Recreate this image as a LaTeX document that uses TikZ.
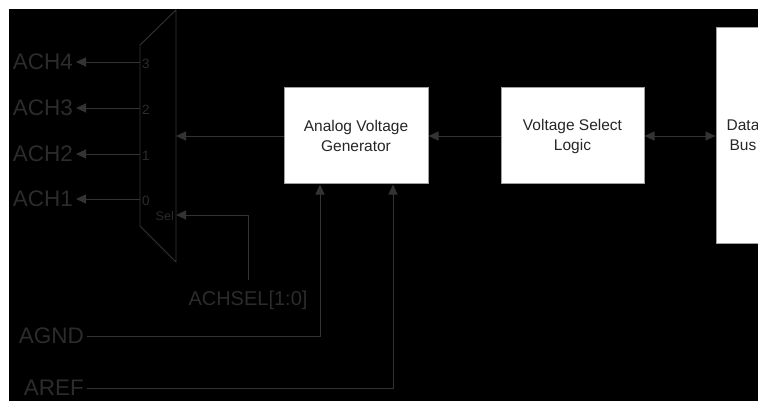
\documentclass[tikz,border=0pt]{standalone}
\usepackage{fontspec}
\setmainfont{Liberation Sans}
\usetikzlibrary{positioning,arrows.meta}
\definecolor{wire}{HTML}{333333}
\definecolor{lbl}{HTML}{2C2C2C}
\definecolor{edge}{HTML}{A0A0A0}

\begin{document}
\begin{tikzpicture}[
  x=1pt, y=-1pt,
  block/.style={
    draw=edge, fill=white, line width=1pt,
    align=center, text=black!85, inner sep=0pt,
    font=\fontsize{15.5}{20}\selectfont
  },
  pin/.style={text=lbl, inner sep=3pt, font=\fontsize{22.5}{27}\selectfont},
  tiny/.style={text=lbl, inner sep=1pt, font=\fontsize{13.5}{16}\selectfont},
  sig/.style={draw=wire, line width=0.9pt, -{Triangle[length=10pt,width=9pt]}},
  bidir/.style={draw=wire, line width=0.9pt,
    {Triangle[length=10pt,width=9pt]}-{Triangle[length=10pt,width=9pt]}}
]

\clip (0,0) rectangle (758,401);
\fill[white] (0,0) rectangle (758,401);
\fill[black] (9,9) rectangle (758,401);

% blocks
\node (avg) [block, minimum width=144pt, minimum height=96pt] at (356,136) {Analog Voltage\\Generator};
\node (vsl) [block, minimum width=143pt, minimum height=96pt] at (572.5,136) {Voltage Select\\Logic};
\node (bus) [block, minimum width=54pt, minimum height=215pt] at (743,135.5) {Data\\Bus};

% analog mux
\draw[wire, line width=0.9pt] (140,45) -- (176,10) -- (176,262) -- (140,226) -- cycle;
\coordinate (in3) at (140,62);
\coordinate (in2) at (140,108);
\coordinate (in1) at (140,154);
\coordinate (in0) at (140,199);
\coordinate (muxout) at (176,136);
\coordinate (muxsel) at (176,215);

\node (d3) [tiny, anchor=west] at (141,64) {3};
\node (d2) [tiny, anchor=west] at (141,110) {2};
\node (d1) [tiny, anchor=west] at (141,156) {1};
\node (d0) [tiny, anchor=west] at (141,201) {0};
\node (sel) [tiny, anchor=east, font=\fontsize{12.5}{15}\selectfont] at (175,216) {Sel};

% pins
\node (ach4) [pin, anchor=east] at (76,62) {ACH4};
\node (ach3) [pin, anchor=east] at (76,108) {ACH3};
\node (ach2) [pin, anchor=east] at (76,154) {ACH2};
\node (ach1) [pin, anchor=east] at (76,199) {ACH1};
\node (achsel) [pin, anchor=north, font=\fontsize{20}{24}\selectfont] at (248,288) {ACHSEL[1:0]};
\node (agnd) [pin, anchor=east] at (87,336) {AGND};
\node (aref) [pin, anchor=east] at (87,388) {AREF};

% connections
\draw[sig] (in3) -- (ach4);
\draw[sig] (in2) -- (ach3);
\draw[sig] (in1) -- (ach2);
\draw[sig] (in0) -- (ach1);
\draw[sig] (avg) -- (muxout);
\draw[sig, shorten <=8pt] (achsel.north) |- (muxsel);
\draw[sig] (vsl) -- (avg);
\draw[bidir] (vsl.east) -- (vsl.east -| bus.west);
\draw[sig] (agnd.east) -| ([xshift=-36pt]avg.south);
\draw[sig] (aref.east) -| ([xshift=37pt]avg.south);

\end{tikzpicture}
\end{document}
